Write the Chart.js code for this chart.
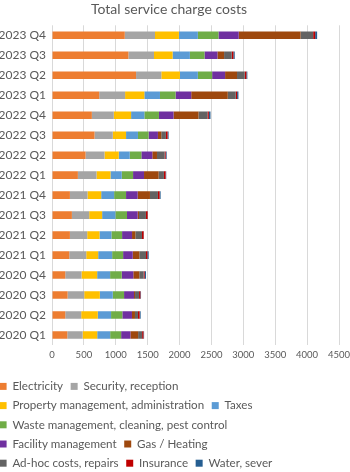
<!DOCTYPE html>
<html><head><meta charset="utf-8">
<script src="https://cdn.jsdelivr.net/npm/chart.js@4"></script>
<style>html,body{margin:0;padding:0;background:#fff;overflow:hidden;}</style>
</head><body>
<canvas id="c" width="350" height="472"></canvas>
<script>
const categories = ['2023 Q4','2023 Q3','2023 Q2','2023 Q1','2022 Q4','2022 Q3','2022 Q2','2022 Q1','2021 Q4','2021 Q3','2021 Q2','2021 Q1','2020 Q4','2020 Q3','2020 Q2','2020 Q1'];
const electricity = [1141,1198,1318,740,625,667,526,406,281,312,281,271,208,245,208,240];
const security    = [474,401,396,406,344,286,297,292,276,271,271,266,255,260,250,240];
const property    = [375,292,292,302,271,208,224,219,214,203,193,187,245,245,260,229];
const taxes       = [297,271,281,245,208,187,172,177,203,208,187,219,203,203,208,203];
const waste       = [323,229,224,245,229,167,182,177,187,182,167,172,182,177,177,172];
const facility    = [318,203,203,245,229,146,172,172,182,167,156,151,182,156,151,146];
const gas         = [969,104,187,573,391,52,73,229,193,21,52,104,94,16,47,120];
const adhoc       = [198,120,120,125,141,73,120,83,125,109,104,104,68,63,47,63];
const insurance   = [31,26,26,21,21,26,16,26,26,26,26,21,16,21,26,21];
const water       = [31,21,16,21,26,16,16,10,16,5,5,21,21,10,16,10];
const xTicks = [0,500,1000,1500,2000,2500,3000,3500,4000,4500];

const seriesNames = ['Electricity','Security, reception','Property management, administration','Taxes','Waste management, cleaning, pest control','Facility management','Gas / Heating','Ad-hoc costs, repairs','Insurance','Water, sever'];
const seriesValues = [electricity,security,property,taxes,waste,facility,gas,adhoc,insurance,water];
const seriesColors = ['#ED7D31','#A5A5A5','#FFC000','#5B9BD5','#70AD47','#7030A0','#9E480E','#636363','#C00000','#255E91'];

const TXT = '#595959';
const FONT = 'Lato';

const shiftPlugin = {
  id: 'shift',
  afterLayout(chart) {
    const l = chart.legend;
    if (l) { l.left -= 8; l.right = l.left + 325; l.top += 7; l.bottom += 7; }
    const t = chart.titleBlock;
    if (t) { t.left -= 6; t.right -= 6; }
  }
};

new Chart(document.getElementById('c'), {
  type: 'bar',
  data: {
    labels: categories,
    datasets: seriesNames.map((n, i) => ({
      label: n,
      data: seriesValues[i],
      backgroundColor: seriesColors[i],
      borderWidth: 0,
      barPercentage: 0.38,
      categoryPercentage: 1
    }))
  },
  options: {
    indexAxis: 'y',
    responsive: false,
    animation: false,
    layout: { padding: { left: 0, right: 0, top: 0, bottom: 0 } },
    plugins: {
      title: {
        display: true,
        text: 'Total service charge costs',
        color: TXT,
        font: { family: FONT, size: 14, weight: 'normal' },
        padding: { top: 1, bottom: 7.5 }
      },
      legend: {
        position: 'bottom',
        align: 'start',
        labels: {
          boxWidth: 7,
          boxHeight: 7,
          padding: 7.6,
          color: TXT,
          font: { family: FONT, size: 11.6 }
        }
      },
      tooltip: { enabled: false }
    },
    scales: {
      x: {
        stacked: true,
        min: 0,
        max: 4500,
        afterBuildTicks(s) { s.ticks = xTicks.map(v => ({ value: v })); },
        ticks: { color: TXT, font: { family: FONT, size: 9.5 }, padding: 4, maxRotation: 0, callback: v => String(v) },
        grid: { color: '#D9D9D9', drawTicks: false, lineWidth: 1 },
        border: { display: false },
        afterFit(s) { s.height = 21; s.paddingRight = 11; }
      },
      y: {
        stacked: true,
        ticks: { color: TXT, font: { family: FONT, size: 12 }, padding: 6 },
        grid: { display: false, drawTicks: false },
        border: { display: false },
        afterFit(s) { s.width = 52; }
      }
    }
  },
  plugins: [shiftPlugin]
});
</script>
</body></html>
